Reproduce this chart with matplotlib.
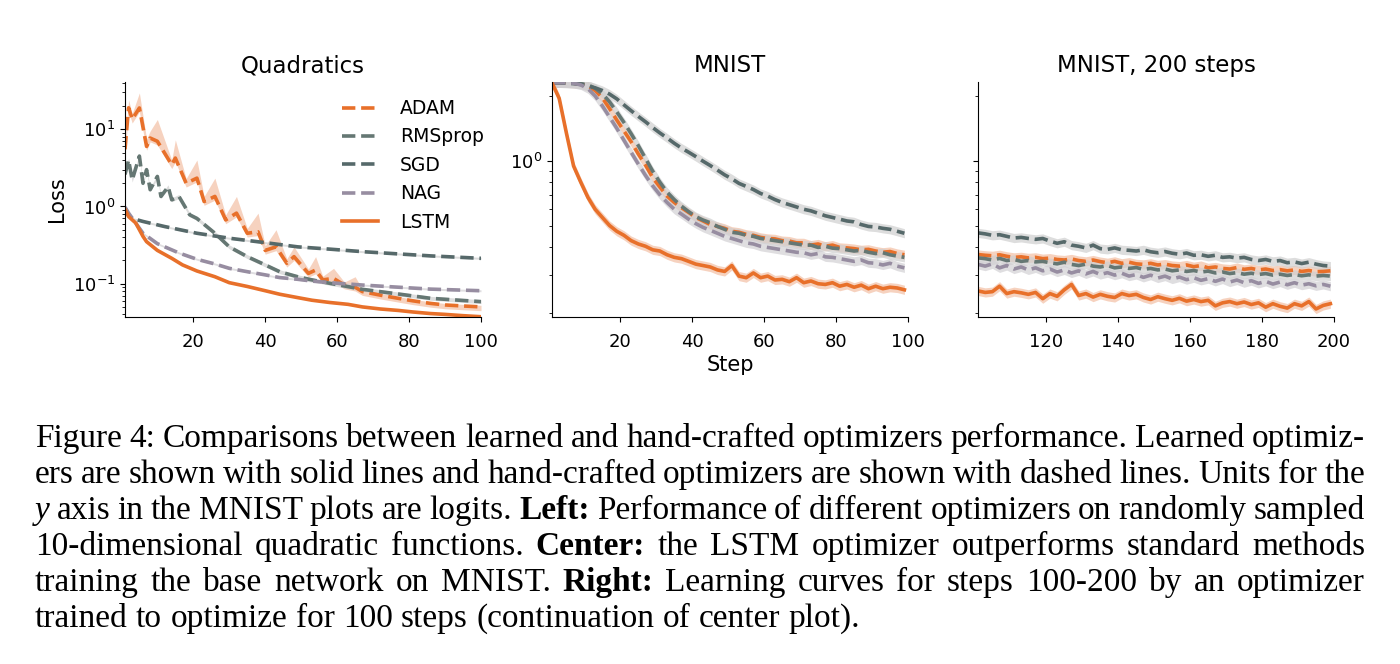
import matplotlib
matplotlib.use("Agg")
import matplotlib.pyplot as plt
from matplotlib.ticker import NullFormatter
import numpy as np

# ---- data ----
labels = ["ADAM", "RMSprop", "SGD", "NAG", "LSTM"]

# Quadratics (left)
q_adam_x = [1, 2, 3, 5, 7, 8, 10, 14, 15, 18, 21, 23, 26, 29, 32, 35, 38, 40, 43, 46, 48,
            52, 54, 56, 59, 62, 65, 67, 72, 77, 81, 86, 90, 95, 100]
q_adam = [5.5, 19.0, 13.5, 18.9, 6.0, 7.7, 7.0, 3.47, 4.24, 2.0, 2.33, 1.16, 1.35, 0.67, 0.82,
          0.45, 0.47, 0.27, 0.30, 0.184, 0.224, 0.136, 0.15, 0.112, 0.117, 0.096, 0.09, 0.079,
          0.071, 0.0646, 0.06, 0.0555, 0.053, 0.0514, 0.05]
q_adam_hi = [6.5, 24.0, 16.0, 29.6, 7.5, 9.5, 13.4, 4.0, 7.3, 2.3, 4.0, 1.35, 2.33, 0.78, 1.35,
             0.52, 0.82, 0.31, 0.5, 0.21, 0.30, 0.155, 0.224, 0.125, 0.158, 0.105, 0.123, 0.085,
             0.075, 0.068, 0.063, 0.058, 0.0555, 0.054, 0.0525]
q_rms_x = [1, 2, 3, 5, 6, 7, 8, 10, 11, 13, 14, 16, 19, 21, 26, 30, 35, 40, 44, 49, 53, 58,
           63, 67, 77, 86, 100]
q_rms = [2.6, 4.0, 2.2, 4.5, 2.0, 3.0, 1.65, 2.45, 1.35, 1.8, 1.22, 1.35, 0.78, 0.70, 0.45,
         0.30, 0.224, 0.175, 0.143, 0.123, 0.112, 0.101, 0.0916, 0.0845, 0.0735, 0.0646, 0.0585]
q_sgd_x = [1, 2, 3, 6, 12, 21, 30, 40, 49, 58, 67, 77, 86, 100]
q_sgd = [0.97, 0.76, 0.70, 0.64, 0.55, 0.45, 0.388, 0.34, 0.30, 0.28, 0.26, 0.243, 0.229, 0.213]
q_nag_x = [1, 2, 6, 10, 16, 21, 26, 30, 35, 40, 44, 49, 53, 58, 67, 77, 86, 100]
q_nag = [0.98, 0.82, 0.45, 0.33, 0.25, 0.207, 0.18, 0.158, 0.143, 0.13, 0.12, 0.114, 0.108,
         0.103, 0.096, 0.09, 0.085, 0.081]
q_lstm_x = [1, 2, 4, 6, 7, 10, 14, 17, 21, 26, 30, 35, 40, 44, 49, 53, 58, 63, 67, 72, 77,
            81, 86, 90, 95, 100]
q_lstm = [0.92, 0.74, 0.61, 0.41, 0.35, 0.27, 0.213, 0.175, 0.146, 0.123, 0.103, 0.092, 0.081,
          0.073, 0.066, 0.061, 0.057, 0.054, 0.050, 0.047, 0.045, 0.043, 0.041, 0.040, 0.0385,
          0.0373]

# MNIST (center), steps 1, 3, ..., 99
m_steps = np.arange(1, 100, 2)
m_adam = [2.30, 2.30, 2.30, 2.29, 2.27, 2.22, 2.12, 1.96, 1.75, 1.55, 1.38, 1.23, 1.08, 0.96,
          0.84, 0.76, 0.69, 0.645, 0.61, 0.58, 0.55, 0.53, 0.51, 0.50, 0.49, 0.475, 0.47, 0.46,
          0.455, 0.445, 0.44, 0.438, 0.43, 0.428, 0.42, 0.42, 0.41, 0.415, 0.405, 0.41, 0.40,
          0.398, 0.395, 0.39, 0.392, 0.385, 0.38, 0.383, 0.375, 0.37]
m_rms = [2.30, 2.30, 2.30, 2.30, 2.28, 2.25, 2.17, 2.05, 1.88, 1.69, 1.51, 1.34, 1.18, 1.03,
         0.90, 0.80, 0.72, 0.665, 0.62, 0.585, 0.555, 0.535, 0.52, 0.50, 0.485, 0.47, 0.465,
         0.455, 0.45, 0.44, 0.435, 0.43, 0.425, 0.42, 0.415, 0.41, 0.41, 0.40, 0.405, 0.397,
         0.395, 0.39, 0.385, 0.388, 0.38, 0.375, 0.378, 0.37, 0.365, 0.36]
m_sgd = [2.30, 2.30, 2.29, 2.28, 2.26, 2.22, 2.18, 2.12, 2.04, 1.94, 1.82, 1.71, 1.61, 1.52,
         1.43, 1.35, 1.28, 1.21, 1.15, 1.10, 1.05, 1.00, 0.955, 0.91, 0.865, 0.83, 0.79, 0.765,
         0.74, 0.71, 0.69, 0.665, 0.645, 0.63, 0.615, 0.60, 0.59, 0.575, 0.56, 0.55, 0.54, 0.53,
         0.525, 0.51, 0.50, 0.497, 0.49, 0.485, 0.475, 0.465]
m_nag = [2.30, 2.30, 2.30, 2.29, 2.25, 2.16, 2.00, 1.80, 1.60, 1.42, 1.25, 1.10, 0.97, 0.86,
         0.77, 0.70, 0.645, 0.60, 0.57, 0.54, 0.515, 0.495, 0.48, 0.465, 0.45, 0.44, 0.43, 0.42,
         0.415, 0.405, 0.40, 0.395, 0.39, 0.385, 0.38, 0.378, 0.37, 0.375, 0.362, 0.36, 0.355,
         0.35, 0.345, 0.35, 0.34, 0.338, 0.332, 0.338, 0.328, 0.322]
m_lstm = [2.30, 1.95, 1.35, 0.95, 0.80, 0.68, 0.60, 0.55, 0.505, 0.475, 0.455, 0.43, 0.415,
          0.405, 0.39, 0.385, 0.37, 0.36, 0.355, 0.345, 0.335, 0.33, 0.325, 0.315, 0.31, 0.33,
          0.295, 0.29, 0.305, 0.29, 0.295, 0.283, 0.285, 0.278, 0.29, 0.275, 0.28, 0.272, 0.27,
          0.275, 0.265, 0.27, 0.262, 0.268, 0.258, 0.265, 0.258, 0.262, 0.26, 0.255]

# MNIST, 200 steps (right), steps 101, 103, ..., 199
r_steps = np.arange(101, 200, 2)
r_adam = [0.371, 0.368, 0.366, 0.37, 0.364, 0.36, 0.362, 0.358, 0.36, 0.355, 0.357, 0.352,
          0.35, 0.354, 0.348, 0.345, 0.35, 0.344, 0.34, 0.345, 0.338, 0.342, 0.336, 0.334,
          0.338, 0.332, 0.335, 0.33, 0.328, 0.332, 0.326, 0.33, 0.322, 0.325, 0.32, 0.318,
          0.323, 0.317, 0.32, 0.315, 0.318, 0.313, 0.316, 0.312, 0.315, 0.31, 0.313, 0.309,
          0.31, 0.312]
r_rms = [0.358, 0.355, 0.35, 0.356, 0.348, 0.352, 0.345, 0.348, 0.343, 0.345, 0.34, 0.336,
         0.342, 0.334, 0.33, 0.335, 0.328, 0.325, 0.33, 0.322, 0.325, 0.32, 0.323, 0.317, 0.32,
         0.315, 0.318, 0.312, 0.315, 0.31, 0.313, 0.308, 0.311, 0.305, 0.308, 0.303, 0.306,
         0.301, 0.304, 0.3, 0.303, 0.298, 0.301, 0.297, 0.3, 0.296, 0.299, 0.295, 0.297, 0.295]
r_sgd = [0.467, 0.462, 0.455, 0.458, 0.45, 0.442, 0.445, 0.44, 0.436, 0.44, 0.428, 0.418,
         0.425, 0.41, 0.405, 0.398, 0.41, 0.395, 0.392, 0.398, 0.39, 0.388, 0.385, 0.39, 0.382,
         0.378, 0.383, 0.376, 0.372, 0.377, 0.368, 0.37, 0.364, 0.368, 0.36, 0.362, 0.357,
         0.36, 0.352, 0.348, 0.352, 0.345, 0.348, 0.34, 0.343, 0.337, 0.342, 0.335, 0.33, 0.328]
r_nag = [0.334, 0.328, 0.336, 0.322, 0.33, 0.318, 0.325, 0.315, 0.322, 0.312, 0.318, 0.308,
         0.315, 0.305, 0.312, 0.302, 0.31, 0.3, 0.306, 0.298, 0.304, 0.295, 0.3, 0.291, 0.298,
         0.289, 0.295, 0.286, 0.292, 0.284, 0.29, 0.282, 0.287, 0.279, 0.286, 0.277, 0.283,
         0.275, 0.281, 0.273, 0.279, 0.271, 0.277, 0.269, 0.275, 0.268, 0.272, 0.266, 0.27, 0.265]
r_lstm = [0.252, 0.248, 0.25, 0.265, 0.245, 0.25, 0.247, 0.243, 0.248, 0.232, 0.245, 0.238,
          0.255, 0.27, 0.24, 0.245, 0.236, 0.243, 0.238, 0.235, 0.245, 0.24, 0.243, 0.235, 0.23,
          0.237, 0.232, 0.228, 0.233, 0.226, 0.23, 0.225, 0.228, 0.215, 0.222, 0.225, 0.22,
          0.224, 0.218, 0.222, 0.212, 0.22, 0.214, 0.21, 0.22, 0.215, 0.225, 0.208, 0.216, 0.22]

caption = [
    "Figure 4: Comparisons between learned and hand-crafted optimizers performance. Learned optimiz-",
    "ers are shown with solid lines and hand-crafted optimizers are shown with dashed lines. Units for the",
    "_y_ axis in the MNIST plots are logits. **Left:** Performance of different optimizers on randomly sampled",
    "10-dimensional quadratic functions. **Center:** the LSTM optimizer outperforms standard methods",
    "training the base network on MNIST. **Right:** Learning curves for steps 100-200 by an optimizer",
    "trained to optimize for 100 steps (continuation of center plot).",
]

# ---- styles ----
ORANGE = "#E8702A"
colors = {"ADAM": ORANGE, "RMSprop": "#657773", "SGD": "#56696A", "NAG": "#978DA1", "LSTM": ORANGE}
bands = {"ADAM": "#F3BFA4", "RMSprop": "#CFCFCF", "SGD": "#CFCFCF", "NAG": "#D2D0D4", "LSTM": "#F3BFA4"}
styles = {"ADAM": "--", "RMSprop": "--", "SGD": "--", "NAG": "--", "LSTM": "-"}
LW = 2.6

W, H = 1400, 664
fig = plt.figure(figsize=(14, 6.64), dpi=100)


def add_ax(x0):
    return fig.add_axes([x0 / W, 1 - 317 / H, 356 / W, 235 / H])


def draw(ax, x, y, name, spread=1.05, hi=None):
    y = np.asarray(y)
    top = np.asarray(hi) if hi is not None else y * spread
    ax.fill_between(x, y / spread, top, color=bands[name], alpha=0.7, lw=0)
    ax.plot(x, y, styles[name], color=colors[name], lw=LW, label=name)


def style_ax(ax, xlim, ylim):
    ax.set_yscale("log")
    ax.set_xlim(*xlim)
    ax.set_ylim(*ylim)
    for s in ["top", "right"]:
        ax.spines[s].set_visible(False)
    ax.yaxis.set_minor_formatter(NullFormatter())
    ax.tick_params(labelsize=13)
    ax.tick_params(axis="x", pad=8)


# left: quadratics
ax1 = add_ax(125)
draw(ax1, q_adam_x, q_adam, "ADAM", spread=1.12, hi=q_adam_hi)
draw(ax1, q_rms_x, q_rms, "RMSprop", spread=1.06)
draw(ax1, q_sgd_x, q_sgd, "SGD", spread=1.03)
draw(ax1, q_nag_x, q_nag, "NAG", spread=1.03)
draw(ax1, q_lstm_x, q_lstm, "LSTM", spread=1.02)
style_ax(ax1, (1, 100), (0.037, 41))
ax1.set_xticks([20, 40, 60, 80, 100])
ax1.set_title("Quadratics", fontsize=16.5, pad=7)
ax1.set_ylabel("Loss", fontsize=15)
handles, labs = ax1.get_legend_handles_labels()
ax1.legend(handles, labs, loc="upper right", frameon=False, fontsize=13.5,
           handlelength=1.9, handletextpad=1.2, borderaxespad=0.2, labelspacing=0.5,
           bbox_to_anchor=(1.04, 0.975))

# center: MNIST
ax2 = add_ax(552)
for name, vals in zip(labels, [m_adam, m_rms, m_sgd, m_nag, m_lstm]):
    draw(ax2, m_steps, vals, name)
style_ax(ax2, (1, 100), (0.191, 2.32))
ax2.set_xticks([20, 40, 60, 80, 100])
ax2.set_title("MNIST", fontsize=16.5, pad=7)
ax2.set_xlabel("Step", fontsize=15, labelpad=3)

# right: MNIST, 200 steps
ax3 = add_ax(978)
for name, vals in zip(labels, [r_adam, r_rms, r_sgd, r_nag, r_lstm]):
    draw(ax3, r_steps, vals, name)
style_ax(ax3, (101, 200), (0.191, 2.32))
ax3.set_xticks([120, 140, 160, 180, 200])
ax3.tick_params(labelleft=False, which="both")
ax3.set_title("MNIST, 200 steps", fontsize=16.5, pad=7)

# caption, justified like the paper
renderer = fig.canvas.get_renderer()
CAP_SIZE = 24
X0, X1 = 35, 1365
base_y = 447
line_gap = 36


def word_kw(tok):
    kw = dict(family="Liberation Serif", fontsize=CAP_SIZE, va="baseline", ha="left")
    if tok.startswith("**"):
        kw["weight"] = "bold"
        tok = tok.strip("*")
    elif tok.startswith("_"):
        kw["style"] = "italic"
        tok = tok.strip("_")
    return tok, kw


probe = fig.text(0, 0, "a a", family="Liberation Serif", fontsize=CAP_SIZE)
probe2 = fig.text(0, 0, "aa", family="Liberation Serif", fontsize=CAP_SIZE)
space_w = probe.get_window_extent(renderer).width - probe2.get_window_extent(renderer).width
probe.remove()
probe2.remove()

for i, line in enumerate(caption):
    yfrac = 1 - (base_y + i * line_gap) / H
    texts = []
    for tok in line.split(" "):
        word, kw = word_kw(tok)
        texts.append(fig.text(0, yfrac, word, **kw))
    widths = [t.get_window_extent(renderer).width for t in texts]
    last = i == len(caption) - 1
    gap = space_w if last else (X1 - X0 - sum(widths)) / (len(texts) - 1)
    x = X0
    for t, w in zip(texts, widths):
        t.set_x(x / W)
        x += w + gap

fig.savefig("out.png", dpi=100)
